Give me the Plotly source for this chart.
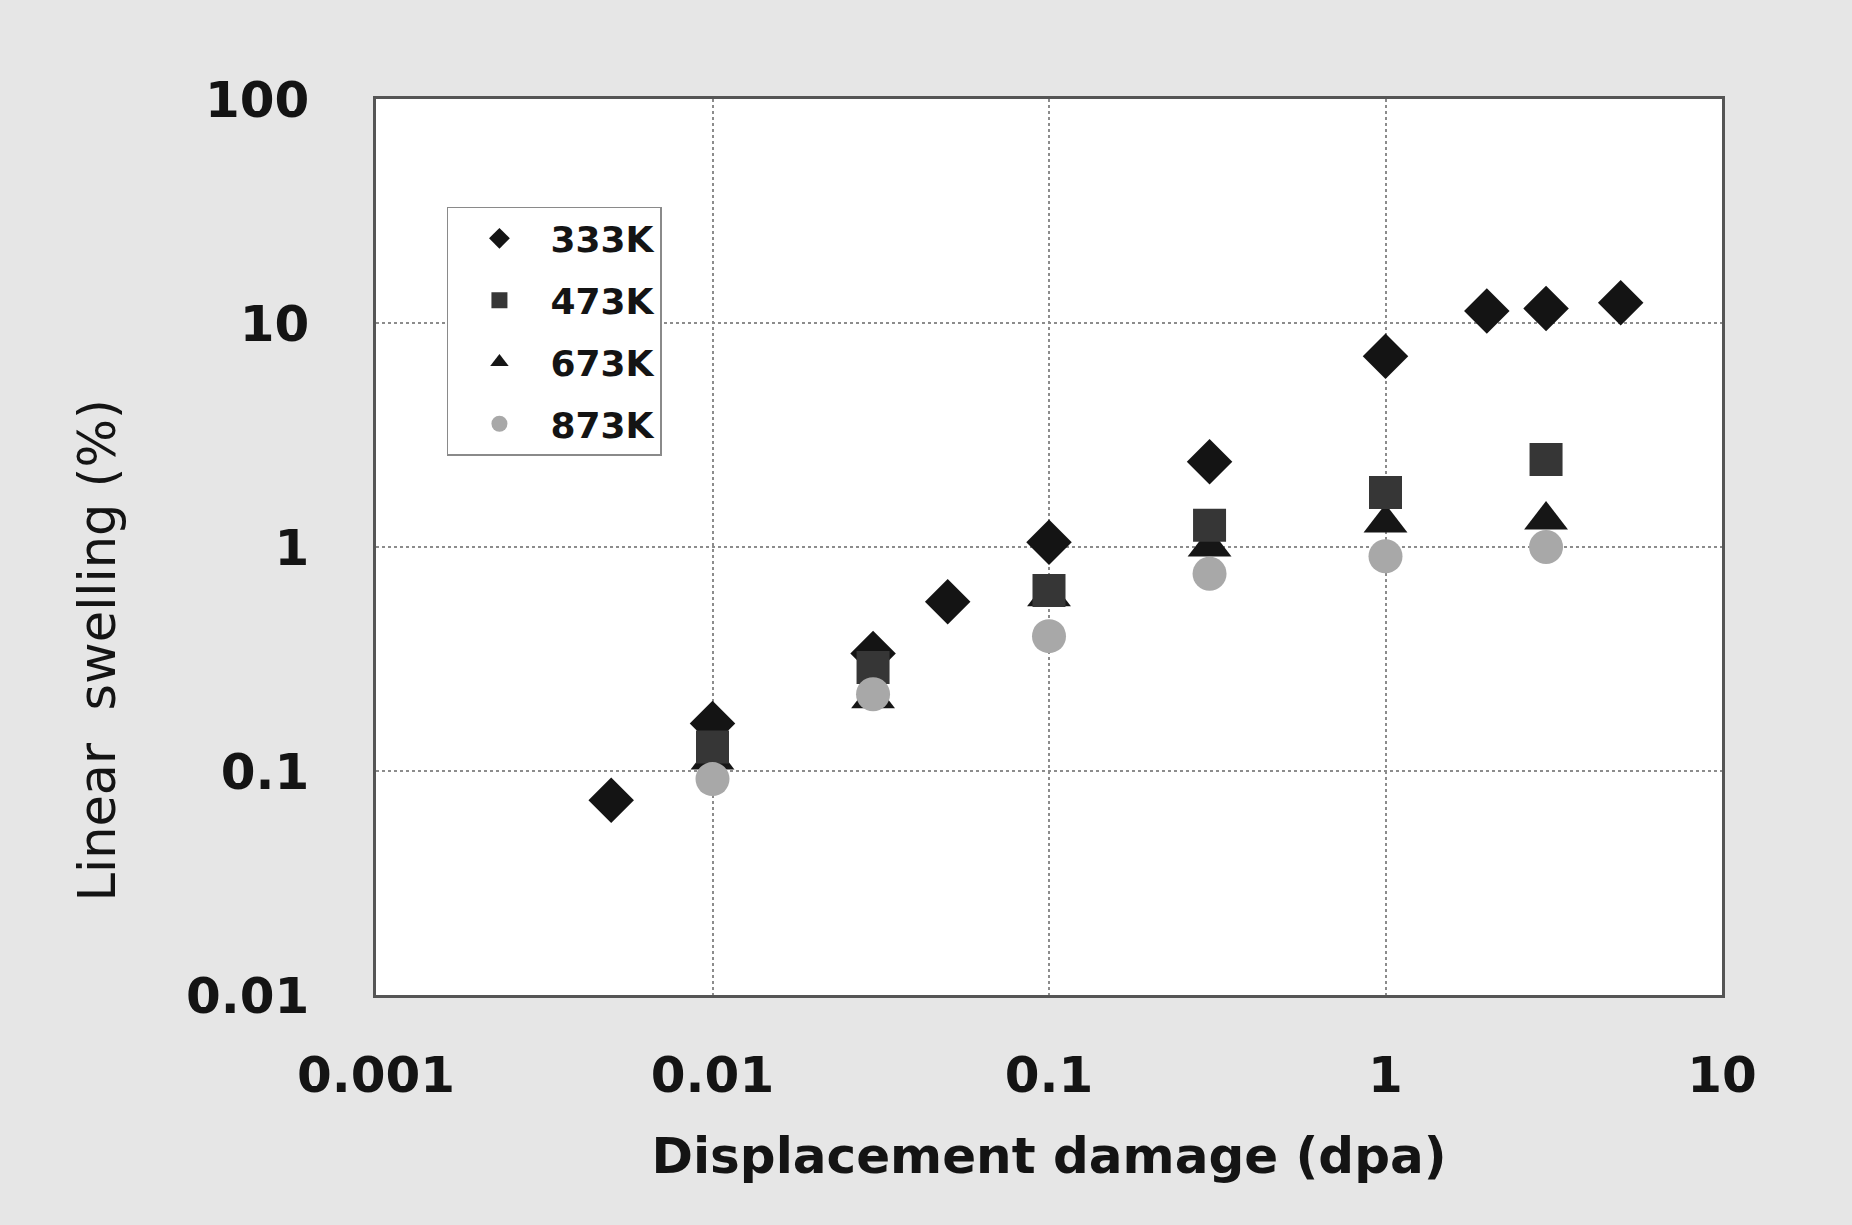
import plotly.graph_objects as go

# ---- data ----
series_names = ["333K", "473K", "673K", "873K"]
x_333 = [0.005, 0.01, 0.03, 0.05, 0.1, 0.3, 1, 2, 3, 5]
y_333 = [0.074, 0.163, 0.335, 0.57, 1.05, 2.4, 7.1, 11.3, 11.6, 12.3]
x_473 = [0.01, 0.03, 0.1, 0.3, 1, 3]
y_473 = [0.128, 0.29, 0.64, 1.25, 1.75, 2.46]
x_673 = [0.01, 0.03, 0.1, 0.3, 1, 3]
y_673 = [0.112, 0.21, 0.60, 1.0, 1.28, 1.32]
x_873 = [0.01, 0.03, 0.1, 0.3, 1, 3]
y_873 = [0.092, 0.22, 0.40, 0.76, 0.91, 1.0]

x_tickvals = [0.001, 0.01, 0.1, 1, 10]
x_ticktext = ["0.001", "0.01", "0.1", "1", "10"]
y_tickvals = [0.01, 0.1, 1, 10, 100]
y_ticktext = ["0.01", "0.1", "1", "10", "100"]

FONT = "DejaVu Sans"
TXT = "#141414"

fig = go.Figure()

def add(name, xs, ys, symbol, color, size, rank):
    fig.add_trace(go.Scatter(
        x=xs, y=ys, mode="markers", name=name,
        marker=dict(symbol=symbol, color=color, size=size, line=dict(width=0)),
        legendrank=rank, legendgroup=name,
    ))

# draw order: diamonds, triangles, squares, circles (legend order by rank)
add(series_names[0], x_333, y_333, "diamond", "#141414", 35, 1)
add(series_names[2], x_673, y_673, "triangle-up", "#161616", 38, 3)
add(series_names[1], x_473, y_473, "square", "#363636", 33, 2)
add(series_names[3], x_873, y_873, "circle", "#a8a8a8", 34, 4)

axis_common = dict(
    showline=True, mirror=True, linecolor="#555555", linewidth=2.5,
    showgrid=True, gridcolor="#8c8c8c", gridwidth=1.5, griddash="dot",
    ticks="", zeroline=False,
    tickfont=dict(family=FONT, size=50, color=TXT, weight="bold"),
)

fig.update_xaxes(
    type="log", range=[-3, 1], tickvals=x_tickvals, ticktext=x_ticktext,
    ticklabelstandoff=34,
    title=dict(text="Displacement damage (dpa)",
               font=dict(family=FONT, size=50, color=TXT, weight="bold"),
               standoff=36),
    **axis_common,
)
fig.update_yaxes(
    type="log", range=[-2, 2], tickvals=y_tickvals, ticktext=y_ticktext,
    ticklabelstandoff=54,
    **axis_common,
)

fig.add_annotation(
    text="Linear\u00a0 swelling (%)", textangle=-90,
    xref="paper", yref="paper", x=-0.207, y=0.385,
    xanchor="center", yanchor="middle", showarrow=False,
    font=dict(family=FONT, size=51, color=TXT),
)

fig.update_layout(
    width=1852, height=1225,
    margin=dict(l=376, r=130, t=99, b=230),
    paper_bgcolor="#e6e6e6", plot_bgcolor="#ffffff",
    showlegend=True,
    legend=dict(
        x=0.0527, y=0.8795, xanchor="left", yanchor="top",
        bgcolor="#ffffff", bordercolor="#8a8a8a", borderwidth=1.5,
        font=dict(family=FONT, size=36, color=TXT, weight="bold"),
        tracegroupgap=12, itemwidth=92, entrywidth=250,
    ),
)

fig.write_html("out.html")
